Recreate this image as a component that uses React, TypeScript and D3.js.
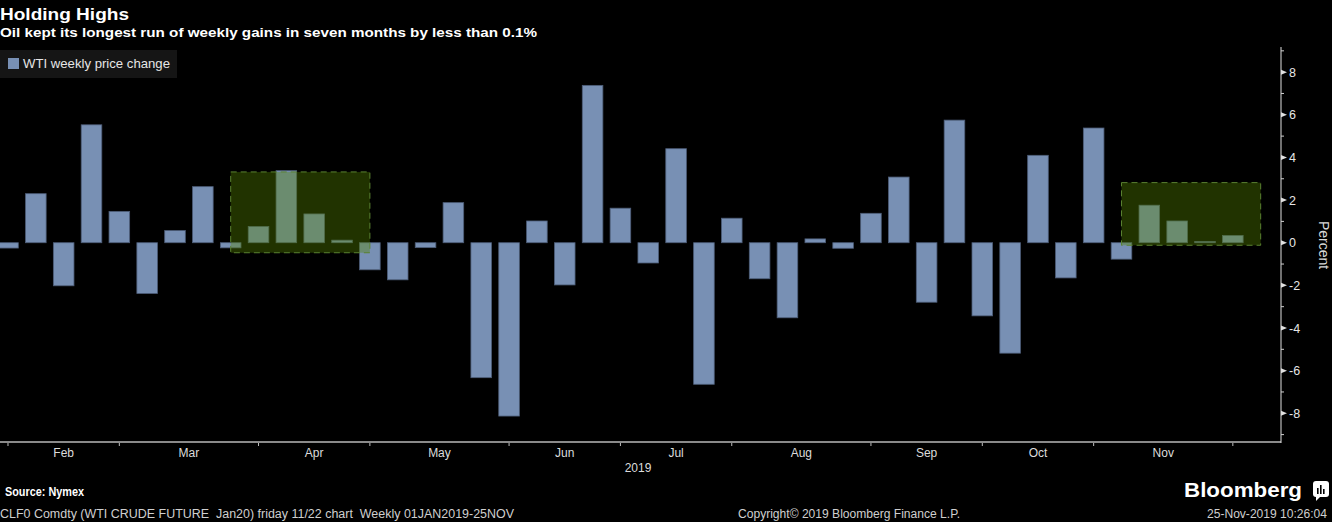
import React from 'react';
import * as d3 from 'd3';

// ---- data ----
const weekEnding = [
  '2019-01-18', '2019-01-25', '2019-02-01', '2019-02-08', '2019-02-15', '2019-02-22',
  '2019-03-01', '2019-03-08', '2019-03-15', '2019-03-22', '2019-03-29', '2019-04-05',
  '2019-04-12', '2019-04-19', '2019-04-26', '2019-05-03', '2019-05-10', '2019-05-17',
  '2019-05-24', '2019-05-31', '2019-06-07', '2019-06-14', '2019-06-21', '2019-06-28',
  '2019-07-05', '2019-07-12', '2019-07-19', '2019-07-26', '2019-08-02', '2019-08-09',
  '2019-08-16', '2019-08-23', '2019-08-30', '2019-09-06', '2019-09-13', '2019-09-20',
  '2019-09-27', '2019-10-04', '2019-10-11', '2019-10-18', '2019-10-25', '2019-11-01',
  '2019-11-08', '2019-11-15', '2019-11-22',
];
const weeklyChange = [
  -0.25, 2.3, -2.02, 5.53, 1.47, -2.38, 0.57, 2.63, -0.24, 0.76, 3.38, 1.35, 0.12,
  -1.27, -1.74, -0.23, 1.88, -6.33, -8.13, 1.02, -1.98, 7.38, 1.62, -0.95, 4.41,
  -6.64, 1.15, -1.69, -3.52, 0.18, -0.26, 1.38, 3.08, -2.79, 5.75, -3.43, -5.18,
  4.1, -1.65, 5.38, -0.77, 1.76, 1.02, 0.06, 0.34,
];
const monthTickIndex = [0, 4, 9, 13, 18, 22, 26, 31, 35, 39, 44];
const monthLabels = ['Feb', 'Mar', 'Apr', 'May', 'Jun', 'Jul', 'Aug', 'Sep', 'Oct', 'Nov'];
const yearLabel = '2019';
const yMajorTicks = [-8, -6, -4, -2, 0, 2, 4, 6, 8];
const yMinorTicks = [-9, -7, -5, -3, -1, 1, 3, 5, 7, 9];
const highlightFrom = [8, 40];
const highlightTo = [13, 45];
const highlightHigh = [3.32, 2.82];
const highlightLow = [-0.47, -0.12];

const title = 'Holding Highs';
const subtitle = 'Oil kept its longest run of weekly gains in seven months by less than 0.1%';
const legendLabel = 'WTI weekly price change';
const yAxisTitle = 'Percent';
const sourceText = 'Source: Nymex';
const footLeft = 'CLF0 Comdty (WTI CRUDE FUTURE  Jan20) friday 11/22 chart  Weekly 01JAN2019-25NOV';
const footMid = 'Copyright\u00A9 2019 Bloomberg Finance L.P.';
const footRight = '25-Nov-2019 10:26:04';

// ---- layout ----
const W = 1332;
const H = 522;
const plotLeft = 0;
const plotRight = 1281;
const plotTop = 47;
const plotBottom = 441;
const BAR_COLOR = '#7890b4';
const FONT = "'Liberation Sans', Arial, sans-serif";

export default function App() {
  const x = d3.scaleLinear().domain([-0.287, 45.73]).range([plotLeft, plotRight]);
  const y = d3.scaleLinear().domain([-9.3, 9.18]).range([plotBottom, plotTop]);
  const barW = (x(1) - x(0)) * 0.74;

  return (
    <svg
      width={W}
      height={H}
      viewBox={`0 0 ${W} ${H}`}
      style={{ position: 'absolute', left: 0, top: 0, background: '#000', display: 'block' }}
      fontFamily={FONT}
    >
      <rect x={0} y={0} width={W} height={H} fill="#000" />
      <defs>
        <clipPath id="plotClip">
          <rect x={plotLeft} y={plotTop - 10} width={plotRight - plotLeft} height={plotBottom - plotTop + 10} />
        </clipPath>
      </defs>

      {/* Title */}
      <text x={0} y={20} fill="#fff" fontSize={17} fontWeight="bold" textLength={129} lengthAdjust="spacingAndGlyphs">
        {title}
      </text>
      <text x={0} y={37} fill="#fff" fontSize={12.5} fontWeight="bold" textLength={537} lengthAdjust="spacingAndGlyphs">
        {subtitle}
      </text>

      {/* Legend */}
      <rect x={0} y={50} width={177} height={28} fill="#151515" />
      <rect x={8} y={58} width={11} height={11} fill={BAR_COLOR} />
      <text x={23} y={68} fill="#e6e6e6" fontSize={13} textLength={147} lengthAdjust="spacingAndGlyphs">
        {legendLabel}
      </text>

      {/* Bars */}
      <g clipPath="url(#plotClip)">
        {weeklyChange.map((v, i) => (
          <rect
            key={weekEnding[i]}
            x={x(i) - barW / 2}
            y={Math.min(y(v), y(0))}
            width={barW}
            height={Math.max(1, Math.abs(y(v) - y(0)))}
            fill={BAR_COLOR}
            stroke="#4d5d78"
            strokeWidth={0.8}
          />
        ))}
      </g>

      {/* Highlight boxes */}
      {highlightFrom.map((f, k) => (
        <rect
          key={'hl' + k}
          x={x(f)}
          y={y(highlightHigh[k])}
          width={x(highlightTo[k]) - x(f)}
          height={y(highlightLow[k]) - y(highlightHigh[k])}
          fill="rgba(88,134,0,0.38)"
          stroke="#5a8230"
          strokeWidth={1}
          strokeDasharray="6,4"
        />
      ))}

      {/* X axis */}
      <line x1={plotLeft} x2={plotRight} y1={plotBottom + 1} y2={plotBottom + 1} stroke="#8a8a8a" strokeWidth={2} />
      {monthTickIndex.map((t) => (
        <line key={'xt' + t} x1={x(t)} x2={x(t)} y1={plotBottom + 2} y2={plotBottom + 5} stroke="#bdbdbd" strokeWidth={1} />
      ))}
      {monthLabels.map((m, k) => (
        <text
          key={m}
          x={(x(monthTickIndex[k]) + x(monthTickIndex[k + 1])) / 2}
          y={457}
          fill="#dcdcdc"
          fontSize={12}
          textAnchor="middle"
        >
          {m}
        </text>
      ))}
      <text x={638} y={472} fill="#dcdcdc" fontSize={12} textAnchor="middle">
        {yearLabel}
      </text>

      {/* Y axis (right) */}
      <line x1={plotRight} x2={plotRight} y1={plotTop} y2={plotBottom + 2} stroke="#e0e0e0" strokeWidth={1} />
      {yMinorTicks.map((t) => (
        <line key={'ym' + t} x1={plotRight} x2={plotRight + 3} y1={y(t)} y2={y(t)} stroke="#d0d0d0" strokeWidth={1} />
      ))}
      {yMajorTicks.map((t) => (
        <g key={'yM' + t} transform={`translate(${plotRight},${y(t)})`}>
          <path d="M0,-2.5 L6,0 L0,2.5 Z" fill="#e0e0e0" />
          <text x={8} y={4.5} fill="#e6e6e6" fontSize={12.5}>
            {t}
          </text>
        </g>
      ))}
      <text
        transform={`translate(1319,245) rotate(90)`}
        fill="#d8d8d8"
        fontSize={14}
        textAnchor="middle"
      >
        {yAxisTitle}
      </text>

      {/* Footer */}
      <text x={5} y={496} fill="#fff" fontSize={12.5} fontWeight="bold" textLength={79} lengthAdjust="spacingAndGlyphs">
        {sourceText}
      </text>
      <text x={0} y={518} fill="#cfcfcf" fontSize={12} textLength={514} lengthAdjust="spacingAndGlyphs" xmlSpace="preserve" style={{ whiteSpace: 'pre' }}>
        {footLeft}
      </text>
      <text x={738} y={518} fill="#cfcfcf" fontSize={12} textLength={222} lengthAdjust="spacingAndGlyphs">
        {footMid}
      </text>
      <text x={1207} y={518} fill="#cfcfcf" fontSize={12} textLength={120} lengthAdjust="spacingAndGlyphs">
        {footRight}
      </text>
      <text x={1184} y={497} fill="#fff" fontSize={21} fontWeight="bold" textLength={118} lengthAdjust="spacingAndGlyphs">
        Bloomberg
      </text>
      <g transform="translate(1313,481)">
        <rect x={0} y={0} width={16} height={16} rx={3} fill="#fff" />
        <path d="M3,16 L3,20 L7,16 Z" fill="#fff" />
        <rect x={4} y={7} width={1.6} height={6} fill="#000" />
        <rect x={7} y={4} width={1.6} height={9} fill="#000" />
        <rect x={10} y={8} width={1.6} height={5} fill="#000" />
      </g>
    </svg>
  );
}
